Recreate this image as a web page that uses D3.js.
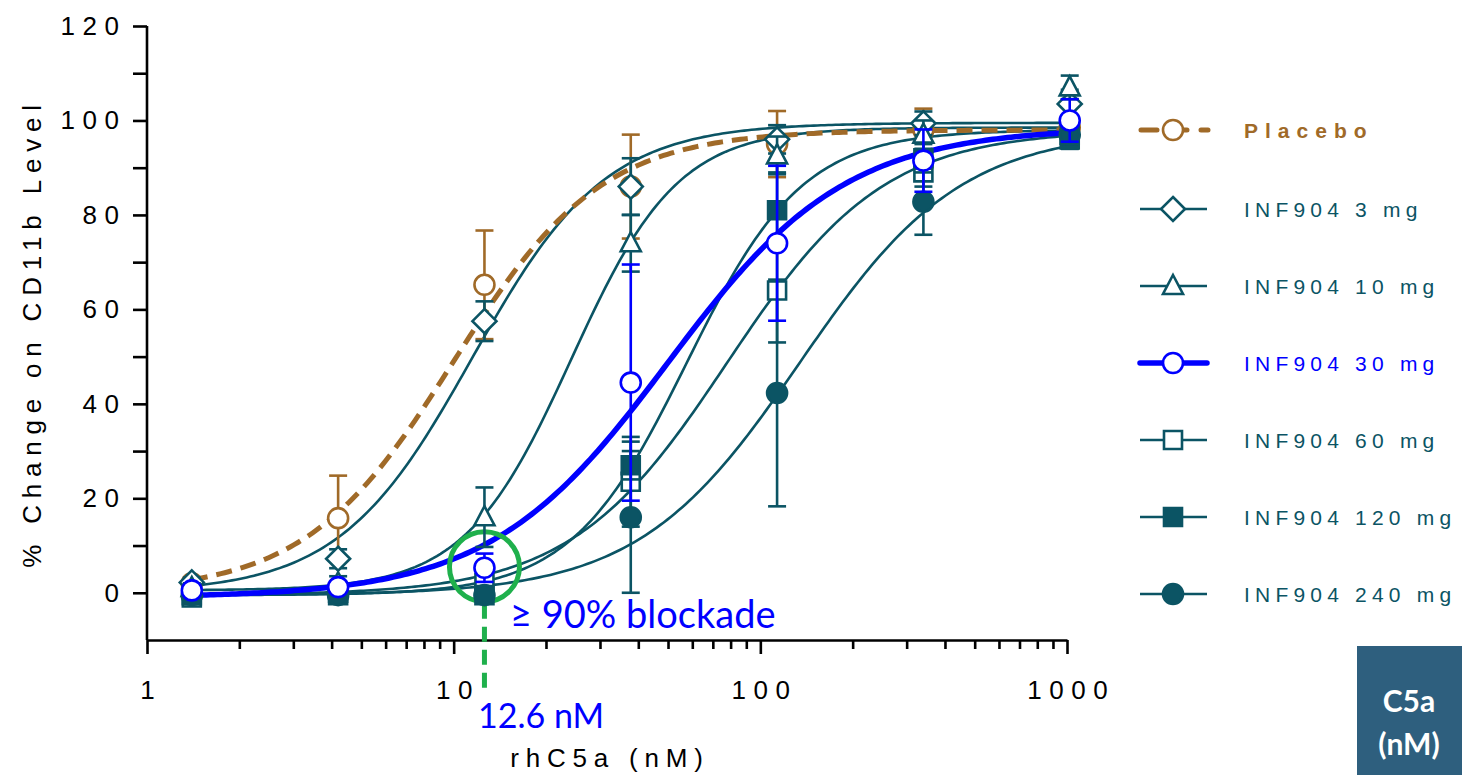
<!DOCTYPE html>
<html><head><meta charset="utf-8">
<script src="https://cdn.jsdelivr.net/npm/d3@7"></script>
<style>body{margin:0;background:#fff;overflow:hidden}</style>
</head><body>
<svg id="chart" width="1462" height="775"></svg>
<script>
// ---------- data ----------
const concentrations = [1.4, 4.2, 12.6, 37.8, 113.4, 340.2, 1020.6];
const seriesNames = ["Placebo", "INF904 3 mg", "INF904 10 mg", "INF904 30 mg", "INF904 60 mg", "INF904 120 mg", "INF904 240 mg"];
const placeboMean = [2.0, 15.8, 65.2, 86.0, 95.0, 98.0, 98.5];
const placeboErr  = [1.0, 9.0, 11.5, 11.0, 7.0, 4.5, 2.0];
const mg3Mean  = [2.2, 7.2, 57.5, 86.0, 96.0, 99.4, 103.5];
const mg3Err   = [1.0, 2.0, 4.2, 6.0, 3.0, 2.5, 3.0];
const mg10Mean = [1.0, 2.0, 16.0, 74.0, 92.6, 97.0, 107.0];
const mg10Err  = [1.0, 1.5, 6.3, 6.0, 4.0, 3.0, 2.5];
const mg30Mean = [0.5, 1.2, 5.3, 44.5, 74.0, 91.5, 100.0];
const mg30Err  = [0.8, 1.0, 3.0, 25.0, 16.4, 6.6, 4.5];
const mg60Mean = [-1.0, -0.5, 2.0, 23.5, 64.0, 89.0, 97.0];
const mg60Err  = [1.0, 1.0, 2.0, 9.5, 11.0, 3.0, 3.0];
const mg120Mean = [-0.5, 0.0, -0.5, 27.0, 81.0, 92.0, 96.0];
const mg120Err  = [1.0, 1.0, 1.0, 3.0, 8.0, 3.0, 2.0];
const mg240Mean = [-0.5, -0.5, -0.5, 16.0, 42.3, 82.8, 97.0];
const mg240Err  = [0.8, 0.8, 1.0, 16.0, 24.0, 7.0, 2.0];
// fitted 4-parameter logistic curves, parameters
const fitTop    = [98.0, 99.5, 98.5, 98.5, 98.0, 98.0, 98.0];
const fitBottom = [0.0, 0.0, 0.5, -1.0, -0.5, -0.5, -0.5];
const fitEC50   = [10.0, 11.5, 24.2, 50.0, 78.0, 57.6, 134.5];
const fitHill   = [1.8, 2.0, 2.5, 1.5, 1.7, 2.3, 1.65];
const yTickValues = [0, 20, 40, 60, 80, 100, 120];
const xTickLabels = ["1", "10", "100", "1000"];
const annotationConc = 12.6;
const annotationLevel = 5.5;
const annotationText = "≥ 90% blockade";
const annotationLabel = "12.6 nM";

// ---------- styles ----------
const TEAL = "#0b5464", BROWN = "#a06a28", BLUE = "#0000ff", GREEN = "#1fb04c";
const means = [placeboMean, mg3Mean, mg10Mean, mg30Mean, mg60Mean, mg120Mean, mg240Mean];
const errs  = [placeboErr, mg3Err, mg10Err, mg30Err, mg60Err, mg120Err, mg240Err];
const colors = [BROWN, TEAL, TEAL, BLUE, TEAL, TEAL, TEAL];
const shapes = ["circle", "diamond", "triangle", "circle", "square", "square", "circle"];
const filled = [false, false, false, false, false, true, true];

const svg = d3.select("#chart");
const x = d3.scaleLog().domain([1, 1000]).range([147, 1067]);
const y = d3.scaleLinear().domain([-10, 120]).range([640, 26]);

function markerPath(shape) {
  if (shape === "circle") return d3.symbol(d3.symbolCircle, Math.PI * 10 * 10)();
  if (shape === "square") return "M-9,-9H9V9H-9Z";
  if (shape === "diamond") return "M0,-12L12,0L0,12L-12,0Z";
  if (shape === "triangle") return "M0,-11L10,8H-10Z";
}
function marker(g, i, cx, cy) {
  const fill = filled[i] ? colors[i] : "#fff";
  g.append("path").attr("d", markerPath(shapes[i]))
    .attr("transform", `translate(${cx},${cy})`)
    .attr("fill", fill).attr("stroke", colors[i]).attr("stroke-width", 2.6);
}

// ---------- axes ----------
const fontAxis = "'Liberation Sans', Arial, sans-serif";
const yAxis = d3.axisLeft(y).tickValues(d3.range(0, 121, 10))
  .tickFormat(d => yTickValues.includes(d) ? String(d) : "")
  .tickSize(14).tickSizeOuter(0).tickPadding(14);
const gy = svg.append("g").attr("transform", "translate(147,0)").call(yAxis);
gy.select(".domain").attr("d", `M0,${y(-10)}V${y(120)}`);

const minorVals = [];
[1, 10, 100].forEach(dec => { for (let k = 1; k <= 9; k++) minorVals.push(dec * k); });
minorVals.push(1000);
const xAxis = d3.axisBottom(x).tickValues(minorVals)
  .tickFormat(d => { const i = [1, 10, 100, 1000].indexOf(d); return i >= 0 ? xTickLabels[i] : ""; })
  .tickSize(14).tickSizeOuter(0).tickPadding(27);
const gx = svg.append("g").attr("transform", `translate(0,${y(-10)})`).call(xAxis);
gx.selectAll(".tick line").attr("y2", d => [1, 10, 100, 1000].includes(d) ? 14 : 9);

[gx, gy].forEach(g => {
  g.selectAll(".domain, .tick line").attr("stroke", "#000").attr("stroke-width", 2.6);
  g.selectAll("text").attr("font-family", fontAxis).attr("font-size", 26)
    .attr("fill", "#000").style("letter-spacing", "7.5px");
});
gy.selectAll("text").attr("dx", 7.5);
gx.selectAll("text").attr("dx", 3.7);

svg.append("text").attr("transform", "translate(41,333) rotate(-90)")
  .attr("text-anchor", "middle").attr("font-family", fontAxis).attr("font-size", 26)
  .style("letter-spacing", "6.8px").text("% Change on CD11b Level");
svg.append("text").attr("x", 610).attr("y", 767)
  .attr("text-anchor", "middle").attr("font-family", fontAxis).attr("font-size", 26)
  .style("letter-spacing", "6.8px").text("rhC5a (nM)");

// ---------- fitted curves ----------
const lineGen = d3.line().x(d => x(d[0])).y(d => y(d[1]));
const lo = Math.log10(concentrations[0]), hi = Math.log10(concentrations[concentrations.length - 1]);
function curvePoints(i) {
  return d3.range(0, 241).map(k => {
    const c = Math.pow(10, lo + (hi - lo) * k / 240);
    const v = fitBottom[i] + (fitTop[i] - fitBottom[i]) / (1 + Math.pow(fitEC50[i] / c, fitHill[i]));
    return [c, v];
  });
}
const curveOrder = [1, 2, 4, 5, 6, 0, 3];
curveOrder.forEach(i => {
  const p = svg.append("path").attr("d", lineGen(curvePoints(i))).attr("fill", "none")
    .attr("stroke", colors[i]);
  if (i === 0) p.attr("stroke-width", 5).attr("stroke-dasharray", "16,9");
  else if (i === 3) p.attr("stroke-width", 5.5);
  else p.attr("stroke-width", 2.6);
});

// ---------- annotation circle ----------
svg.append("line").attr("x1", x(annotationConc)).attr("x2", x(annotationConc))
  .attr("y1", y(annotationLevel) + 37).attr("y2", 692)
  .attr("stroke", GREEN).attr("stroke-width", 5).attr("stroke-dasharray", "15,8");
svg.append("circle").attr("cx", x(annotationConc)).attr("cy", y(annotationLevel)).attr("r", 35)
  .attr("fill", "none").attr("stroke", GREEN).attr("stroke-width", 5);

// ---------- error bars + markers ----------
const drawOrder = [0, 1, 2, 4, 5, 6, 3];
drawOrder.forEach(i => {
  const g = svg.append("g");
  concentrations.forEach((c, j) => {
    const cx = x(c), y0 = y(means[i][j] - errs[i][j]), y1 = y(means[i][j] + errs[i][j]);
    g.append("line").attr("x1", cx).attr("x2", cx).attr("y1", y0).attr("y2", y1)
      .attr("stroke", colors[i]).attr("stroke-width", 2.6);
    [y0, y1].forEach(yy => g.append("line").attr("x1", cx - 9).attr("x2", cx + 9)
      .attr("y1", yy).attr("y2", yy).attr("stroke", colors[i]).attr("stroke-width", 2.6));
  });
  concentrations.forEach((c, j) => marker(g, i, x(c), y(means[i][j])));
});

// ---------- annotation texts ----------
svg.append("text").attr("x", 510).attr("y", 628).attr("font-family", "Lato, 'Open Sans', sans-serif")
  .attr("font-size", 38).attr("fill", BLUE).text(annotationText);
svg.append("text").attr("x", 478).attr("y", 728).attr("font-family", "Lato, 'Open Sans', sans-serif")
  .attr("font-size", 34).attr("fill", BLUE).text(annotationLabel);

// ---------- legend ----------
const legendY = [130, 209, 286, 363, 440, 517, 594];
seriesNames.forEach((name, i) => {
  const g = svg.append("g").attr("transform", `translate(0,${legendY[i]})`);
  const ln = g.append("line").attr("x1", 1140).attr("x2", 1207).attr("y1", 0).attr("y2", 0)
    .attr("stroke", colors[i]);
  if (i === 0) ln.attr("stroke-width", 5).attr("stroke-dasharray", "16,14").attr("stroke-linecap", "round").attr("x2", 1208).attr("x1", 1141);
  else if (i === 3) ln.attr("stroke-width", 5.5).attr("stroke-linecap", "round");
  else ln.attr("stroke-width", 2.6);
  marker(g, i, 1173, 0);
  g.append("text").attr("x", 1244).attr("y", 8).attr("font-family", fontAxis)
    .attr("font-size", 21).attr("fill", colors[i]).attr("font-weight", i === 0 ? "bold" : "normal")
    .style("letter-spacing", i === 0 ? "7px" : "5.2px").text(name);
});

// ---------- corner box ----------
svg.append("rect").attr("x", 1357).attr("y", 646).attr("width", 105).attr("height", 129).attr("fill", "#2e5f7e");
svg.append("text").attr("x", 1409).attr("y", 712).attr("text-anchor", "middle")
  .attr("font-family", "Lato, 'Open Sans', sans-serif").attr("font-weight", "bold")
  .attr("font-size", 30).attr("fill", "#fff").text("C5a");
svg.append("text").attr("x", 1409).attr("y", 755).attr("text-anchor", "middle")
  .attr("font-family", "Lato, 'Open Sans', sans-serif").attr("font-weight", "bold")
  .attr("font-size", 30).attr("fill", "#fff").text("(nM)");
</script>
</body></html>
